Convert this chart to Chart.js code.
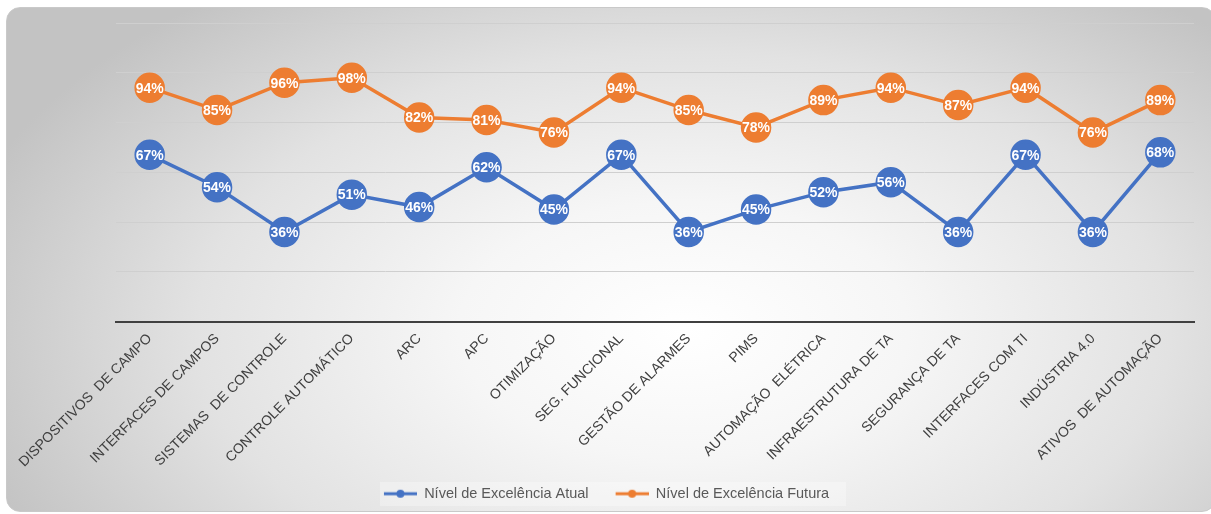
<!DOCTYPE html>
<html>
<head>
<meta charset="utf-8">
<script src="https://cdn.jsdelivr.net/npm/chart.js@4.4.1/dist/chart.umd.min.js"></script>
<style>
  html, body { margin: 0; padding: 0; background: #ffffff; }
  #wrap { position: relative; width: 1211px; height: 514px; }
  #bg {
    position: absolute; left: 6px; top: 7px; width: 1210px; height: 505px;
    box-sizing: border-box; border: 1px solid #c9c9c9; border-radius: 14px;
    background: radial-gradient(ellipse 62% 85% at 56% 64%, #ffffff 0%, #f6f6f6 30%, #e2e2e2 65%, #c3c3c3 100%);
  }
  canvas { position: absolute; left: 0; top: 0; }
</style>
</head>
<body>
<div id="wrap">
  <div id="bg"></div>
  <canvas id="c" width="1211" height="514"></canvas>
</div>
<script>
const categories = [
  "DISPOSITIVOS  DE CAMPO", "INTERFACES DE CAMPOS", "SISTEMAS  DE CONTROLE", "CONTROLE AUTOMÁTICO",
  "ARC", "APC", "OTIMIZAÇÃO", "SEG. FUNCIONAL", "GESTÃO DE ALARMES", "PIMS",
  "AUTOMAÇÃO  ELÉTRICA", "INFRAESTRUTURA DE TA", "SEGURANÇA DE TA", "INTERFACES COM TI",
  "INDÚSTRIA 4.0", "ATIVOS  DE AUTOMAÇÃO"
];
const seriesNames = ["Nível de Excelência Atual", "Nível de Excelência Futura"];
const atual  = [67, 54, 36, 51, 46, 62, 45, 67, 36, 45, 52, 56, 36, 67, 36, 68];
const futura = [94, 85, 96, 98, 82, 81, 76, 94, 85, 78, 89, 94, 87, 94, 76, 89];
const yMin = 0, yMax = 120, yStep = 20;

const BLUE = '#4472C4', ORANGE = '#ED7D31';

function legendIcon(color) {
  const c = document.createElement('canvas');
  c.width = 50; c.height = 10;
  const g = c.getContext('2d');
  g.strokeStyle = color; g.lineWidth = 3;
  g.beginPath(); g.moveTo(17, 5); g.lineTo(50, 5); g.stroke();
  g.fillStyle = color;
  g.beginPath(); g.arc(33.5, 5, 4, 0, Math.PI * 2); g.fill();
  return c;
}
const icons = [legendIcon(BLUE), legendIcon(ORANGE)];

const valueLabels = {
  id: 'valueLabels',
  afterDatasetsDraw(chart) {
    const ctx = chart.ctx;
    ctx.save();
    ctx.font = 'bold 14px "Liberation Sans", Arial, sans-serif';
    ctx.fillStyle = '#ffffff';
    ctx.textAlign = 'center';
    ctx.textBaseline = 'middle';
    chart.data.datasets.forEach((ds, i) => {
      const meta = chart.getDatasetMeta(i);
      meta.data.forEach((pt, j) => {
        ctx.fillText(ds.data[j] + '%', pt.x, pt.y + 1);
      });
    });
    ctx.restore();
  }
};

const legendBand = {
  id: 'legendBand',
  beforeDraw(chart) {
    const ctx = chart.ctx;
    ctx.save();
    ctx.fillStyle = 'rgba(255,255,255,0.3)';
    ctx.fillRect(380, 482, 466, 24);
    ctx.restore();
  }
};

new Chart(document.getElementById('c'), {
  type: 'line',
  data: {
    labels: categories,
    datasets: [
      { label: seriesNames[0], data: atual, borderColor: BLUE, backgroundColor: BLUE,
        pointBackgroundColor: BLUE, pointBorderColor: BLUE, borderWidth: 3.5,
        pointRadius: 13.5, pointHoverRadius: 13.5, tension: 0, pointStyle: 'circle' },
      { label: seriesNames[1], data: futura, borderColor: ORANGE, backgroundColor: ORANGE,
        pointBackgroundColor: ORANGE, pointBorderColor: ORANGE, borderWidth: 3.5,
        pointRadius: 13.5, pointHoverRadius: 13.5, tension: 0, pointStyle: 'circle' }
    ]
  },
  options: {
    responsive: false,
    animation: false,
    devicePixelRatio: 1,
    layout: { padding: { left: 0, right: 15, top: 23, bottom: 3 } },
    plugins: {
      tooltip: { enabled: false },
      legend: {
        position: 'bottom',
        labels: {
          usePointStyle: true,
          pointStyleWidth: 50,
          padding: 10,
          color: '#595959',
          font: { size: 14.5, family: '"Liberation Sans", Arial, sans-serif' },
          generateLabels(chart) {
            return chart.data.datasets.map((ds, i) => ({
              text: ds.label, pointStyle: icons[i], fillStyle: ds.borderColor,
              strokeStyle: ds.borderColor, lineWidth: 0, hidden: false, datasetIndex: i,
              fontColor: '#595959'
            }));
          }
        }
      }
    },
    scales: {
      x: {
        offset: true,
        grid: { display: false, drawTicks: false },
        border: { display: true, color: '#404040', width: 2 },
        ticks: {
          color: '#404040',
          font: { size: 14, family: '"Liberation Sans", Arial, sans-serif' },
          maxRotation: 45, minRotation: 45, autoSkip: false, padding: 9
        },
        afterFit(s) { s.height = 155; }
      },
      y: {
        min: yMin, max: yMax,
        ticks: { display: false, stepSize: yStep },
        grid: { color: '#cfcfcf', lineWidth: 1, drawTicks: false },
        border: { display: false },
        afterFit(s) { s.width = 116; }
      }
    }
  },
  plugins: [legendBand, valueLabels]
});
</script>
</body>
</html>
